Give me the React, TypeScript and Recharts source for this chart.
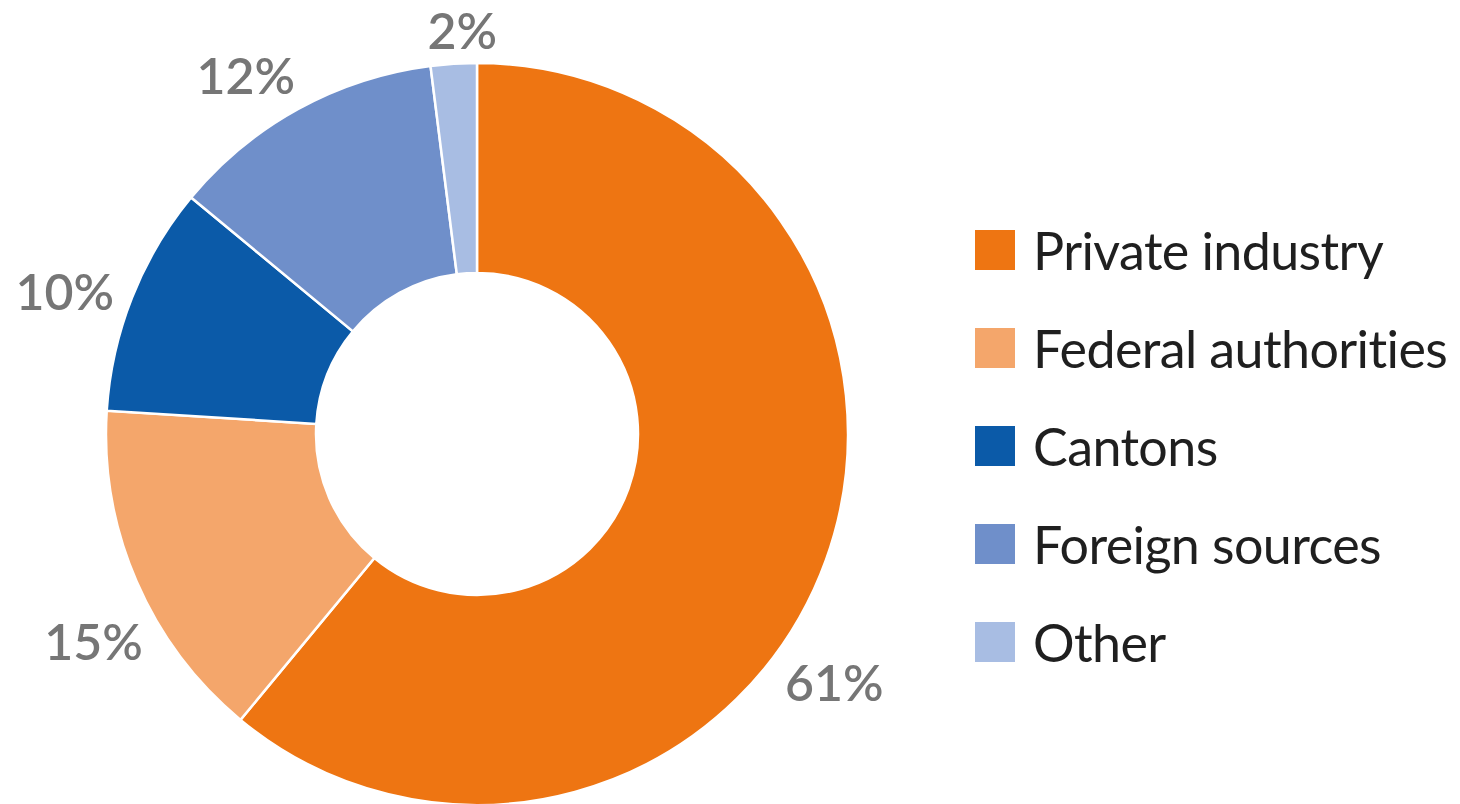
import { PieChart, Pie, Cell, Legend } from "recharts";

const sources = ["Private industry", "Federal authorities", "Cantons", "Foreign sources", "Other"];
const shares = [61, 15, 10, 12, 2];
const colors = ["#ee7512", "#f4a66b", "#0b5aa8", "#6f8fca", "#a8bde3"];

const data = sources.map((name, i) => ({ name, value: shares[i] }));

// excel's "best fit" labels don't sit exactly on the slice middle
const labelAngleNudge: Record<string, number> = {
  "Private industry": -15,
  "Federal authorities": 5,
  "Cantons": 2.5,
  "Foreign sources": 4,
  "Other": -1.5,
};

const RAD = Math.PI / 180;

function renderLabel(props: any) {
  const { cx, cy, midAngle, outerRadius, name, value } = props;
  const text = `${value}%`;
  const angle = midAngle + (labelAngleNudge[name] ?? 0);
  const ux = Math.cos(-angle * RAD);
  const uy = Math.sin(-angle * RAD);
  const halfW = text.length * 16.5;
  const r = outerRadius + 12 + halfW * Math.abs(ux) + 20 * Math.abs(uy);
  return (
    <text
      x={cx + r * ux}
      y={cy + r * uy}
      textAnchor="middle"
      dominantBaseline="central"
      fill="#767676"
      fontSize={50}
      fontWeight={600}
      fontFamily="Lato, sans-serif"
    >
      {text}
    </text>
  );
}

function renderLegend() {
  return (
    <div style={{ fontFamily: "Lato, sans-serif" }}>
      {sources.map((s, i) => (
        <div key={s} style={{ display: "flex", alignItems: "center", height: 98 }}>
          <span style={{ width: 40, height: 40, background: colors[i], marginRight: 18, flexShrink: 0 }} />
          <span style={{ fontSize: 52, letterSpacing: -0.6, color: "#1f1f1f", whiteSpace: "nowrap" }}>{s}</span>
        </div>
      ))}
    </div>
  );
}

export default function App() {
  return (
    <PieChart width={1452} height={796}>
      <Pie
        data={data}
        dataKey="value"
        nameKey="name"
        cx={464}
        cy={421}
        innerRadius={161}
        outerRadius={371}
        startAngle={90}
        endAngle={-270}
        stroke="#ffffff"
        strokeWidth={2.5}
        label={renderLabel}
        labelLine={false}
        isAnimationActive={false}
      >
        {data.map((d, i) => (
          <Cell key={d.name} fill={colors[i]} />
        ))}
      </Pie>
      <Legend
        layout="vertical"
        verticalAlign="top"
        align="right"
        content={renderLegend}
        wrapperStyle={{ left: 967, top: 193, width: 480 }}
      />
    </PieChart>
  );
}
